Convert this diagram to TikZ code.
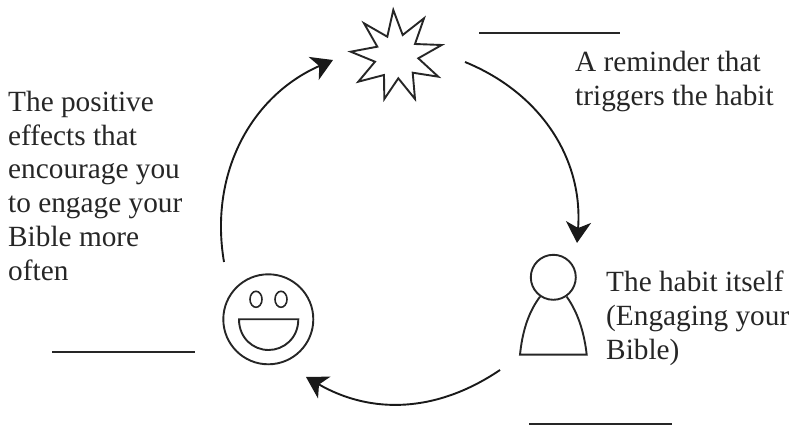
\documentclass[tikz,border=0pt]{standalone}
\usepackage{fontspec}
\setmainfont{Liberation Serif}
\usetikzlibrary{arrows.meta,shapes.geometric}
\tikzset{
  x=1pt,y=-1pt,
  icon/.style={draw=black!85,line width=1.9pt,line join=miter},
  cyc/.style={draw=black!90,line width=1.9pt,-{Stealth[length=21pt,width=25pt,inset=6pt]}},
  blank/.style={draw=black!85,line width=1.6pt},
  lbl/.style={inner sep=0pt,anchor=north west,align=left,text=black!85,font=\fontsize{29.3}{33.7}\selectfont},
  eye/.style={icon,ellipse,minimum width=12pt,minimum height=16pt,inner sep=0pt,line width=1.6pt},
}
\begin{document}
\begin{tikzpicture}
\useasboundingbox (0,0) rectangle (795,427);
% star
\draw[icon] (393.3,10)--(402.7,35)--(424,18.3)--(415,44)--(441.7,45)--(418.3,58.3)--(438.3,76.7)--(412.7,72.7)--(415,99)--(398.3,78.3)--(384.3,99)--(384,75)--(358.3,81.7)--(375,61.7)--(350.7,51.7)--(377.3,46.7)--(364,23.3)--(387.3,36.7)--cycle;
% smiley
\node[icon,circle,minimum size=90pt,inner sep=0pt] (smile) at (268.3,319.3) {};
\node[eye] (eyeL) at (256,299.3) {};
\node[eye] (eyeR) at (281,299.3) {};
\draw[icon] (239,319.3)--(298.3,319.3) .. controls (298.3,338) and (284,350) .. (268.6,350) .. controls (253,350) and (239,338) .. (239,319.3) -- cycle;
% person
\node[icon,circle,minimum size=45pt,inner sep=0pt] (head) at (553.3,277.3) {};
\draw[icon] (540,296.7) .. controls (527,314) and (522,335) .. (520,354.7) -- (586.7,354.7) .. controls (584.5,335) and (579,314) .. (566.7,296.7);
% arrows
\coordinate (a1) at (465,62);
\coordinate (a2) at (577,243);
\coordinate (b1) at (500,370);
\coordinate (b2) at (306,377);
\coordinate (c1) at (224,262);
\coordinate (c2) at (333,60);
\draw[cyc] (a1) to[bend left=36] (a2);
\draw[cyc] (b1) to[bend left=32] (b2);
\draw[cyc] (c1) to[bend left=38] (c2);
% blanks
\coordinate (l1) at (479,33); \coordinate (l2) at (620,33);
\coordinate (m1) at (529,424); \coordinate (m2) at (672,424);
\coordinate (n1) at (52,352); \coordinate (n2) at (195,352);
\draw[blank] (l1)--(l2);
\draw[blank] (m1)--(m2);
\draw[blank] (n1)--(n2);
% text
\node[lbl] (t1) at (575,51) {A reminder that\\triggers the habit};
\node[lbl] (t2) at (8,91) {The positive\\effects that\\encourage you\\to engage your\\Bible more\\often};
\node[lbl] (t3) at (606,271) {The habit itself\\(Engaging your\\Bible)};
\end{tikzpicture}
\end{document}
